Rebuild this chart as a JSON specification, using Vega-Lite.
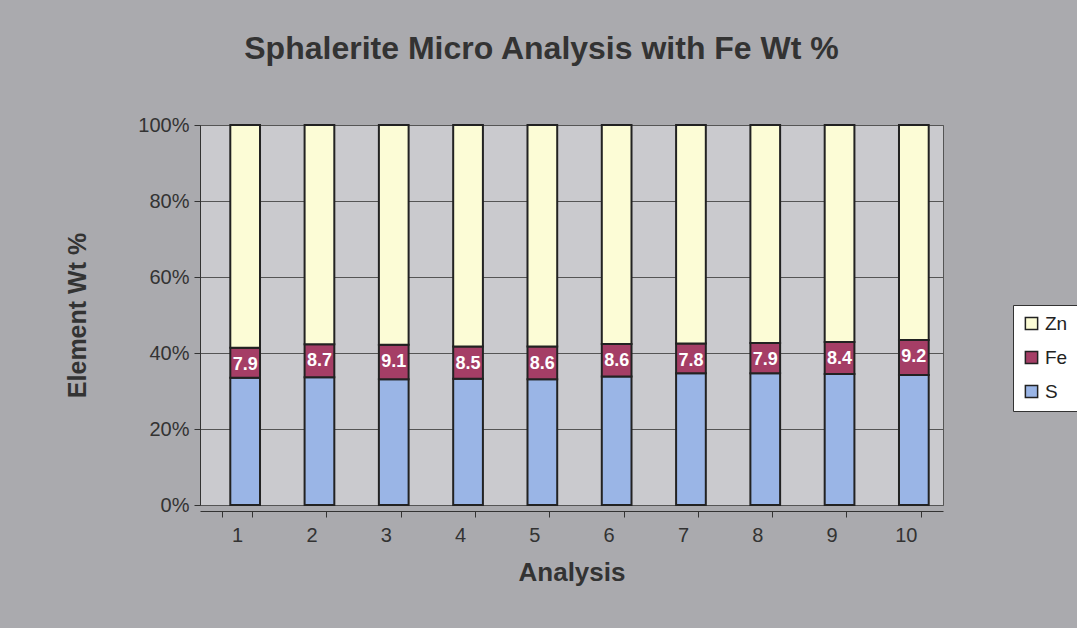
{
  "$schema": "https://vega.github.io/schema/vega-lite/v6.json",
  "autosize": {"type": "none"},
  "width": 743,
  "height": 380,
  "padding": {"left": 200, "top": 125, "right": 134, "bottom": 123},
  "background": "#aaaaae",
  "config": {
    "font": "Liberation Sans",
    "view": {"fill": "#cacace", "stroke": "#555555", "strokeWidth": 1},
    "axis": {"labelFont": "Liberation Sans", "titleFont": "Liberation Sans"}
  },
  "title": {
    "text": "Sphalerite Micro Analysis with Fe Wt %",
    "font": "Liberation Sans",
    "fontSize": 32,
    "fontWeight": "bold",
    "color": "#333333",
    "anchor": "middle",
    "dx": -30,
    "offset": 49
  },
  "data": {
    "values": [
      {"analysis": "1", "element": "S", "k": 1, "wt": 33.5},
      {"analysis": "1", "element": "Fe", "k": 2, "wt": 7.9},
      {"analysis": "1", "element": "Zn", "k": 3, "wt": 58.6},
      {"analysis": "2", "element": "S", "k": 1, "wt": 33.6},
      {"analysis": "2", "element": "Fe", "k": 2, "wt": 8.7},
      {"analysis": "2", "element": "Zn", "k": 3, "wt": 57.7},
      {"analysis": "3", "element": "S", "k": 1, "wt": 33.1},
      {"analysis": "3", "element": "Fe", "k": 2, "wt": 9.1},
      {"analysis": "3", "element": "Zn", "k": 3, "wt": 57.8},
      {"analysis": "4", "element": "S", "k": 1, "wt": 33.2},
      {"analysis": "4", "element": "Fe", "k": 2, "wt": 8.5},
      {"analysis": "4", "element": "Zn", "k": 3, "wt": 58.3},
      {"analysis": "5", "element": "S", "k": 1, "wt": 33.1},
      {"analysis": "5", "element": "Fe", "k": 2, "wt": 8.6},
      {"analysis": "5", "element": "Zn", "k": 3, "wt": 58.3},
      {"analysis": "6", "element": "S", "k": 1, "wt": 33.8},
      {"analysis": "6", "element": "Fe", "k": 2, "wt": 8.6},
      {"analysis": "6", "element": "Zn", "k": 3, "wt": 57.6},
      {"analysis": "7", "element": "S", "k": 1, "wt": 34.7},
      {"analysis": "7", "element": "Fe", "k": 2, "wt": 7.8},
      {"analysis": "7", "element": "Zn", "k": 3, "wt": 57.5},
      {"analysis": "8", "element": "S", "k": 1, "wt": 34.7},
      {"analysis": "8", "element": "Fe", "k": 2, "wt": 7.9},
      {"analysis": "8", "element": "Zn", "k": 3, "wt": 57.4},
      {"analysis": "9", "element": "S", "k": 1, "wt": 34.5},
      {"analysis": "9", "element": "Fe", "k": 2, "wt": 8.4},
      {"analysis": "9", "element": "Zn", "k": 3, "wt": 57.1},
      {"analysis": "10", "element": "S", "k": 1, "wt": 34.2},
      {"analysis": "10", "element": "Fe", "k": 2, "wt": 9.2},
      {"analysis": "10", "element": "Zn", "k": 3, "wt": 56.6}
    ]
  },
  "layer": [
    {
      "mark": {"type": "bar", "stroke": "#222222", "strokeWidth": 2, "xOffset": 8},
      "encoding": {
        "x": {
          "field": "analysis",
          "type": "ordinal",
          "sort": ["1","2","3","4","5","6","7","8","9","10"],
          "scale": {"paddingInner": 0.6, "paddingOuter": 0.3},
          "axis": {
            "title": "Analysis",
            "titleFontSize": 26,
            "titleFontWeight": "bold",
            "titleColor": "#333333",
            "titlePadding": 14,
            "labelAngle": 0,
            "labelFontSize": 20,
            "labelColor": "#333333",
            "labelPadding": 8,
            "tickBand": "extent",
            "tickColor": "#333333",
            "tickSize": 6,
            "domainColor": "#333333",
            "offset": 6
          }
        },
        "y": {
          "field": "wt",
          "type": "quantitative",
          "stack": "normalize",
          "scale": {"domain": [0, 1]},
          "axis": {
            "title": "Element Wt %",
            "titleFontSize": 25,
            "titleFontWeight": "bold",
            "titleColor": "#333333",
            "titlePadding": 47,
            "format": ".0%",
            "values": [0, 0.2, 0.4, 0.6, 0.8, 1],
            "labelFontSize": 20,
            "labelColor": "#333333",
            "labelPadding": 5,
            "tickColor": "#333333",
            "tickSize": 6,
            "domainColor": "#333333",
            "gridColor": "#555555",
            "gridWidth": 1
          }
        },
        "color": {
          "field": "element",
          "type": "nominal",
          "scale": {"domain": ["Zn", "Fe", "S"], "range": ["#fcfcd6", "#a53e66", "#9ab5e6"]},
          "legend": {
            "title": null,
            "orient": "none",
            "legendX": 813,
            "legendY": 180,
            "symbolType": "square",
            "symbolSize": 150,
            "symbolStrokeColor": "#222222",
            "symbolStrokeWidth": 1.5,
            "labelFontSize": 19,
            "labelColor": "#222222",
            "rowPadding": 14,
            "padding": 9,
            "fillColor": "#ffffff",
            "strokeColor": "#333333"
          }
        },
        "order": {"field": "k", "type": "quantitative", "sort": "ascending"}
      }
    },
    {
      "transform": [
        {"stack": "wt", "groupby": ["analysis"], "sort": [{"field": "k", "order": "ascending"}], "offset": "normalize", "as": ["y0", "y1"]},
        {"filter": "datum.element === 'Fe'"}
      ],
      "mark": {"type": "text", "color": "#ffffff", "fontSize": 18, "fontWeight": "bold", "baseline": "middle", "dy": 17, "xOffset": 8},
      "encoding": {
        "x": {"field": "analysis", "type": "ordinal", "sort": ["1","2","3","4","5","6","7","8","9","10"]},
        "y": {"field": "y1", "type": "quantitative"},
        "text": {"field": "wt", "type": "quantitative", "format": ".1f"}
      }
    }
  ]
}
